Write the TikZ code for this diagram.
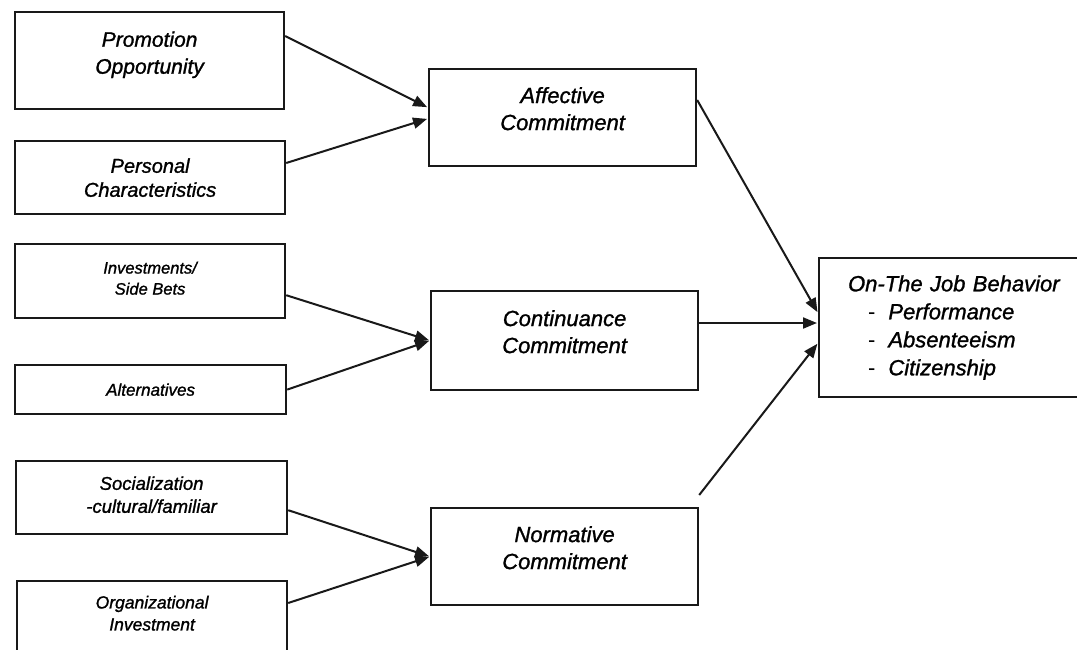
\documentclass[tikz,border=0pt]{standalone}
\usepackage{fontspec}
\setmainfont{Liberation Sans}[ItalicFeatures={FakeBold=1.2}]
\usetikzlibrary{arrows.meta}
\begin{document}
\begin{tikzpicture}[x=1pt,y=-1pt,
  box/.style={draw=black!90, line width=2.2pt, anchor=north west, inner sep=0pt, align=center},
  arr/.style={line width=2pt, draw=black!90, -{Triangle[length=14pt,width=11pt]}, shorten >=1pt},
  midfont/.style={font=\fontsize{22}{27}\selectfont\itshape}]
\useasboundingbox (0,0) rectangle (1077,649);
\clip (0,0) rectangle (1077,649);
\fill[white] (0,0) rectangle (1077,649);
% left boxes
\node[box, minimum width=269, minimum height=97, font=\fontsize{21}{27}\selectfont\itshape] (prom) at (14,11) {Promotion\\Opportunity\\[-11pt]\mbox{}};
\node[box, minimum width=270, minimum height=73, font=\fontsize{20}{24}\selectfont\itshape] (pers) at (14,140) {Personal\\Characteristics};
\node[box, minimum width=270, minimum height=74, font=\fontsize{16.5}{21}\selectfont\itshape] (inv) at (14,243) {Investments/\\Side Bets\\[-15pt]\mbox{}};
\node[box, minimum width=271, minimum height=49, font=\fontsize{17}{21}\selectfont\itshape] (alt) at (14,364) {Alternatives};
\node[box, minimum width=271, minimum height=73, font=\fontsize{18.5}{23}\selectfont\itshape] (soc) at (15,460) {Socialization\\-cultural/familiar\\[-17pt]\mbox{}};
\node[box, minimum width=270, minimum height=90, font=\fontsize{17.5}{22}\selectfont\itshape] (org) at (16,580) {Organizational\\Investment\\[4pt]\mbox{}};
% middle boxes
\node[box, midfont, minimum width=267, minimum height=97] (aff) at (428,68) {Affective\\Commitment\\[-9pt]\mbox{}};
\node[box, midfont, minimum width=267, minimum height=99] (cont) at (430,290) {Continuance\\Commitment\\[-9pt]\mbox{}};
\node[box, midfont, minimum width=267, minimum height=97] (norm) at (430,507) {Normative\\Commitment\\[-9pt]\mbox{}};
% right box
\node[box, minimum width=300, minimum height=139, align=left, inner xsep=29pt, text width=242pt,
      font=\fontsize{22}{28}\selectfont\itshape] (job) at (818,257)
  {On-The Job Behavior\\
   \hspace*{20pt}{\upshape -}\hspace{13pt}Performance\\
   \hspace*{20pt}{\upshape -}\hspace{13pt}Absenteeism\\
   \hspace*{20pt}{\upshape -}\hspace{13pt}Citizenship};
% connectors
\draw[arr] ([yshift=-25pt]prom.north east) -- ([yshift=10pt]aff.west);
\draw[arr] ([yshift=-23pt]pers.north east) -- ([yshift=-1pt]aff.west);
\draw[arr] ([yshift=24pt]inv.south east) -- (cont.west);
\draw[arr] (alt.east) -- (cont.west);
\draw[arr] ([yshift=25pt]soc.south east) -- (norm.west);
\draw[arr] ([yshift=-23pt]org.north east) -- (norm.west);
\draw[arr] ([yshift=-32pt]aff.north east) -- ([yshift=-56pt]job.north west);
\draw[arr] ([yshift=-33pt]cont.north east) -- ([yshift=-66pt]job.north west);
\draw[arr] ([yshift=12pt]norm.north east) -- ([yshift=-86pt]job.north west);
\end{tikzpicture}
\end{document}
